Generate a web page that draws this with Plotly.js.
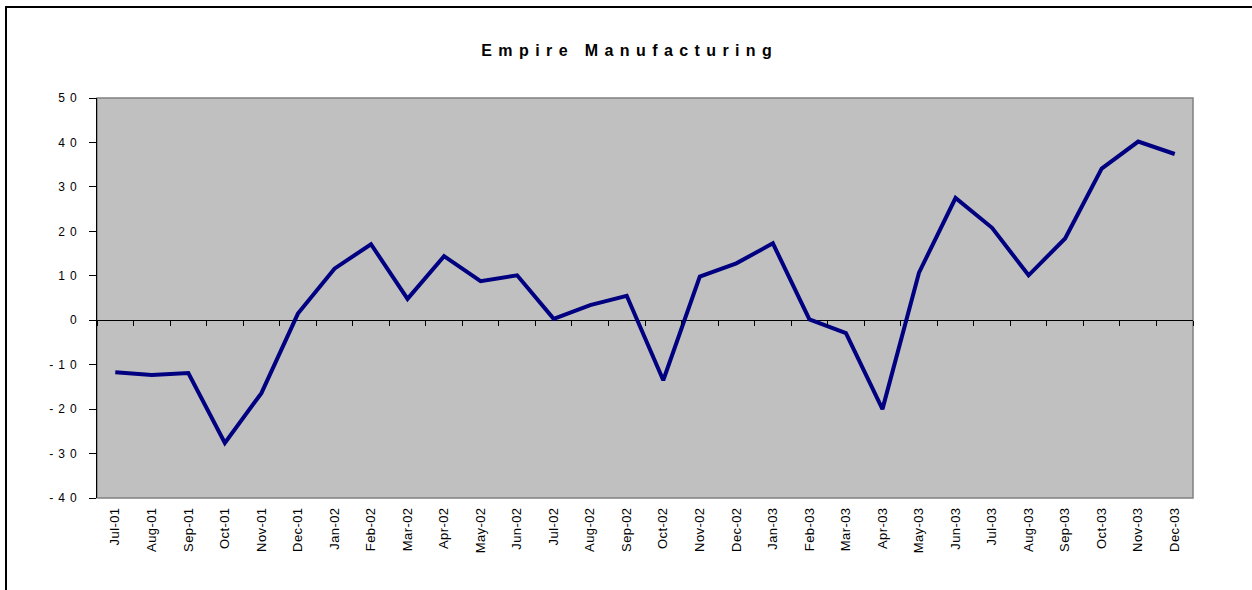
<!DOCTYPE html>
<html>
<head>
<meta charset="utf-8">
<script src="https://cdn.plot.ly/plotly-3.0.1.min.js"></script>
<style>
  html, body { margin: 0; padding: 0; background: #fff; }
  #chart { width: 1252px; height: 590px; }
  .gtitle { letter-spacing: 6.4px; }
  .ytick text { letter-spacing: 5px; }
  .xtick text { letter-spacing: 0.4px; }
</style>
</head>
<body>
<div id="chart"></div>
<script>
const months = ["Jul-01","Aug-01","Sep-01","Oct-01","Nov-01","Dec-01",
  "Jan-02","Feb-02","Mar-02","Apr-02","May-02","Jun-02","Jul-02","Aug-02","Sep-02","Oct-02","Nov-02","Dec-02",
  "Jan-03","Feb-03","Mar-03","Apr-03","May-03","Jun-03","Jul-03","Aug-03","Sep-03","Oct-03","Nov-03","Dec-03"];
const empire = [-11.7,-12.3,-11.9,-27.6,-16.4,1.5,
  11.6,17.1,4.8,14.4,8.8,10.1,0.3,3.4,5.5,-13.5,9.8,12.8,
  17.3,0.2,-2.9,-20.0,10.7,27.5,20.8,10.1,18.4,34.1,40.2,37.4];
const yTicks = [-40,-30,-20,-10,0,10,20,30,40,50];
const chartTitle = "Empire Manufacturing";

const fam = "Liberation Sans, Arial, sans-serif";
const xFont = {family: fam, size: 13, color: "#000"};
const yFont = {family: fam, size: 12, color: "#000"};

const traces = [
  {
    x: months, y: empire, type: "scatter", mode: "lines",
    line: {color: "#000080", width: 4},
    hoverinfo: "x+y", xaxis: "x", yaxis: "y"
  },
  {
    x: months, y: empire, type: "scatter", mode: "lines",
    line: {color: "rgba(0,0,0,0)", width: 0},
    hoverinfo: "skip", xaxis: "x2", yaxis: "y", showlegend: false
  }
];

const layout = {
  width: 1252, height: 590,
  margin: {l: 97, r: 59, t: 98, b: 92},
  paper_bgcolor: "#fff",
  plot_bgcolor: "#C0C0C0",
  showlegend: false,
  font: yFont,
  title: {
    text: "<b>" + chartTitle + "</b>",
    font: {family: fam, size: 16, color: "#000"},
    xref: "container", x: 0.503, xanchor: "center",
    yref: "container", y: 1 - 50 / 590, yanchor: "middle"
  },
  xaxis: {
    type: "category",
    range: [-0.5, months.length - 0.5],
    showgrid: false, zeroline: false,
    showline: false,
    ticks: "", tickangle: -90,
    ticklabelstandoff: 6,
    tickfont: xFont,
    fixedrange: true
  },
  xaxis2: {
    type: "category",
    overlaying: "x",
    anchor: "free", position: 40/90,
    range: [-0.5, months.length - 0.5],
    showgrid: false, zeroline: false, showline: false,
    showticklabels: false,
    ticks: "outside", tickson: "boundaries", ticklen: 5, tickcolor: "#000", tickwidth: 1,
    fixedrange: true
  },
  yaxis: {
    range: [-40, 50],
    tickvals: yTicks,
    ticktext: yTicks.map(String),
    showgrid: false,
    zeroline: true, zerolinecolor: "#000", zerolinewidth: 1,
    showline: true, linecolor: "#000", linewidth: 1,
    ticks: "outside", ticklen: 7, tickcolor: "#000", tickwidth: 1,
    ticklabelstandoff: 5,
    tickfont: yFont,
    fixedrange: true
  },
  shapes: [
    {type: "rect", xref: "paper", yref: "paper", x0: 0, x1: 1, y0: 0, y1: 1,
     line: {color: "#808080", width: 1.5}, fillcolor: "rgba(0,0,0,0)", layer: "below"},
    {type: "rect", xref: "paper", yref: "paper",
     x0: (6 - 97) / 1096, x1: (1270 - 97) / 1096,
     y0: (498 - 610) / 400, y1: (498 - 7) / 400,
     line: {color: "#000", width: 2}, fillcolor: "rgba(0,0,0,0)", layer: "above"}
  ]
};

Plotly.newPlot("chart", traces, layout, {displayModeBar: false, staticPlot: true});
</script>
</body>
</html>
